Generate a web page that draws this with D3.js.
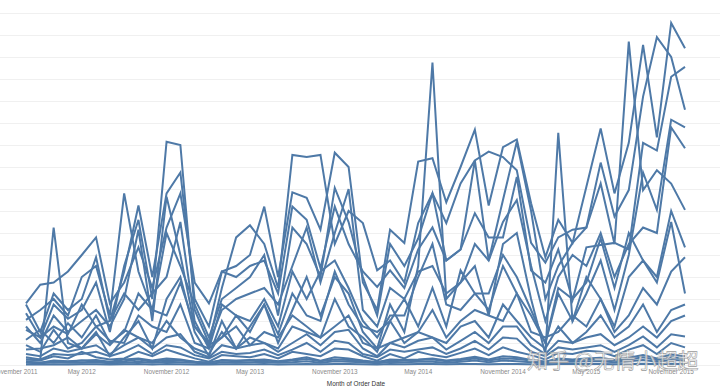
<!DOCTYPE html>
<html>
<head>
<meta charset="utf-8">
<script src="https://cdn.jsdelivr.net/npm/d3@7.9.0/dist/d3.min.js"></script>
<style>
  html, body { margin: 0; padding: 0; background: #fff; }
  svg { display: block; font-family: "Liberation Sans", Arial, sans-serif; }
</style>
</head>
<body>
<svg id="chart" width="720" height="391"></svg>
<script>
// monthly sales (thousands) by sub-category, Jan 2012 - Dec 2015
const phones = [5.5, 3.0, 6.5, 5.0, 6.0, 9.8, 4.0, 8.5, 14.5, 8.0, 15.6, 17.5,
  6.0, 3.5, 8.5, 9.0, 10.0, 14.4, 8.0, 15.7, 15.2, 12.3, 19.3, 18.0,
  7.5, 5.0, 12.3, 11.1, 18.5, 18.8, 14.8, 18.0, 21.4, 14.5, 19.8, 20.5,
  14.7, 9.8, 13.2, 11.1, 16.2, 21.5, 15.6, 20.2, 29.1, 20.7, 31.1, 28.8];
const chairs = [4.7, 2.5, 5.5, 4.2, 5.0, 7.5, 3.0, 9.0, 13.2, 6.0, 20.3, 20.0,
  5.0, 2.0, 7.0, 11.6, 12.7, 11.0, 7.0, 19.1, 18.9, 19.1, 11.0, 14.0,
  12.9, 8.6, 9.5, 7.5, 12.9, 15.6, 12.9, 16.5, 18.6, 19.4, 18.9, 17.7,
  11.1, 9.3, 11.6, 12.3, 12.5, 18.4, 13.5, 15.9, 24.4, 29.8, 28.0, 23.2];
const storage = [5.6, 7.3, 7.5, 8.5, 10.0, 11.6, 5.6, 7.5, 10.7, 7.0, 12.5, 15.6,
  7.5, 5.6, 8.5, 8.0, 9.0, 9.5, 6.5, 14.4, 13.2, 8.8, 14.4, 11.0,
  8.5, 7.1, 8.6, 7.0, 10.5, 12.5, 9.5, 10.5, 13.8, 11.6, 11.6, 17.1,
  8.6, 7.5, 10.5, 5.9, 10.7, 10.9, 11.1, 10.5, 20.2, 19.5, 26.2, 27.1];
const tables = [4.1, 5.0, 6.0, 4.5, 8.0, 9.0, 4.5, 15.6, 8.5, 5.0, 12.0, 9.0,
  5.5, 2.5, 6.0, 7.0, 8.0, 10.0, 4.5, 12.5, 11.0, 8.0, 16.1, 13.0,
  8.0, 4.5, 11.0, 9.0, 11.5, 15.6, 9.5, 10.5, 18.6, 9.5, 15.0, 20.3,
  14.0, 6.0, 9.0, 11.1, 12.5, 16.5, 11.0, 29.4, 15.9, 17.7, 16.5, 14.1];
const binders = [3.5, 2.0, 4.5, 3.0, 4.0, 5.0, 3.5, 6.0, 12.3, 4.0, 15.3, 10.0,
  3.5, 2.0, 5.0, 6.0, 6.5, 7.0, 5.5, 9.0, 12.5, 7.5, 12.0, 16.0,
  5.0, 3.5, 7.0, 6.0, 8.5, 9.0, 6.5, 7.5, 11.0, 9.5, 13.0, 15.0,
  9.0, 4.0, 8.0, 10.0, 9.0, 12.0, 8.0, 11.0, 12.5, 12.0, 21.6, 19.7];
const machines = [3.2, 2.5, 3.5, 2.8, 5.5, 3.5, 4.0, 6.5, 5.0, 6.5, 8.0, 13.0,
  4.0, 1.5, 5.5, 4.5, 4.0, 6.0, 3.5, 8.5, 6.0, 8.5, 9.5, 7.0,
  4.0, 2.5, 4.5, 4.5, 8.0, 11.0, 5.5, 5.0, 6.5, 6.5, 10.0, 8.0,
  5.0, 2.0, 7.0, 6.0, 7.5, 11.5, 7.0, 12.0, 9.5, 8.0, 14.0, 10.7];
const copiers = [0.5, 0.5, 12.5, 2.0, 1.5, 3.0, 0.8, 2.5, 4.0, 1.5, 6.0, 8.0,
  3.0, 0.8, 4.0, 1.5, 3.5, 5.5, 2.0, 5.0, 8.0, 4.5, 8.0, 6.5,
  3.0, 1.5, 5.5, 3.0, 9.0, 27.5, 6.0, 7.5, 9.0, 4.5, 11.0, 12.0,
  6.0, 1.0, 21.1, 4.0, 6.5, 9.5, 5.0, 10.0, 17.5, 14.1, 22.3, 21.6];
const accessories = [2.3, 3.2, 2.0, 3.8, 2.5, 4.5, 2.0, 3.0, 6.5, 5.0, 4.5, 7.5,
  3.5, 1.8, 2.5, 4.5, 3.0, 5.5, 2.8, 6.5, 4.5, 4.0, 8.5, 5.5,
  3.5, 3.0, 4.0, 6.0, 3.5, 7.0, 3.5, 8.6, 6.5, 5.0, 9.0, 6.5,
  4.5, 2.0, 6.5, 4.0, 8.0, 6.0, 3.5, 8.0, 9.5, 7.5, 13.0, 6.5];
const bookcases = [1.8, 1.2, 3.2, 1.5, 2.0, 3.5, 2.2, 2.0, 4.5, 3.5, 3.0, 5.5,
  2.0, 1.5, 2.5, 3.5, 1.8, 3.0, 2.5, 4.5, 3.5, 2.5, 6.0, 3.5,
  2.5, 1.2, 4.0, 2.0, 3.0, 5.0, 2.5, 4.0, 5.0, 4.5, 4.0, 6.5,
  3.0, 2.5, 3.0, 4.5, 3.5, 6.0, 3.0, 4.5, 7.0, 5.5, 8.5, 9.8];
const appliances = [1.4, 1.5, 1.8, 2.5, 1.5, 2.8, 1.8, 3.2, 2.5, 2.0, 4.0, 2.5,
  1.5, 1.0, 3.0, 1.5, 2.5, 2.0, 1.5, 3.5, 3.0, 2.5, 3.5, 4.5,
  2.0, 1.5, 2.0, 2.5, 3.0, 2.5, 2.0, 3.5, 4.0, 2.5, 5.5, 4.0,
  2.5, 1.5, 3.5, 2.0, 3.0, 4.5, 2.5, 3.5, 5.5, 3.0, 5.0, 5.5];
const furnishings = [1.0, 0.8, 1.5, 1.2, 1.5, 1.8, 1.0, 1.8, 2.5, 1.5, 2.5, 2.8,
  1.2, 0.7, 1.8, 1.5, 1.8, 2.0, 1.2, 2.0, 2.8, 1.8, 3.0, 3.2,
  1.5, 0.8, 2.0, 1.6, 2.2, 2.5, 1.4, 2.2, 3.0, 2.0, 3.5, 3.5,
  1.8, 1.0, 2.2, 2.0, 2.5, 2.8, 1.8, 2.5, 3.5, 2.5, 4.0, 4.5];
const paper = [0.7, 0.5, 1.0, 0.9, 1.0, 1.2, 0.8, 1.2, 1.8, 1.0, 1.8, 1.6,
  0.9, 0.6, 1.2, 1.0, 1.1, 1.4, 0.9, 1.4, 2.0, 1.2, 2.2, 2.0,
  1.0, 0.7, 1.4, 1.2, 1.4, 1.6, 1.0, 1.5, 2.2, 1.4, 2.5, 2.4,
  1.2, 0.8, 1.6, 1.4, 1.6, 1.8, 1.2, 1.8, 2.6, 1.6, 2.8, 2.6];
const supplies = [0.5, 0.4, 0.8, 0.6, 1.2, 0.7, 0.5, 0.6, 1.2, 0.8, 1.4, 1.0,
  0.6, 0.3, 0.9, 0.8, 0.7, 1.0, 0.6, 1.2, 1.0, 0.8, 1.5, 1.4,
  0.8, 0.4, 1.0, 0.6, 1.2, 0.9, 0.7, 1.1, 1.5, 0.9, 1.6, 1.2,
  0.9, 0.5, 1.1, 1.0, 1.3, 1.2, 0.8, 1.4, 1.8, 1.0, 2.0, 1.6];
const art = [0.3, 0.2, 0.4, 0.35, 0.4, 0.45, 0.3, 0.5, 0.6, 0.4, 0.6, 0.5,
  0.3, 0.2, 0.45, 0.4, 0.45, 0.5, 0.35, 0.5, 0.7, 0.4, 0.7, 0.6,
  0.4, 0.25, 0.5, 0.45, 0.5, 0.6, 0.4, 0.55, 0.75, 0.5, 0.8, 0.7,
  0.45, 0.3, 0.6, 0.5, 0.6, 0.65, 0.45, 0.65, 0.9, 0.6, 0.95, 0.8];
const envelopes = [0.3, 0.2, 0.35, 0.3, 0.4, 0.3, 0.25, 0.35, 0.5, 0.3, 0.45, 0.4,
  0.3, 0.2, 0.4, 0.35, 0.4, 0.45, 0.3, 0.4, 0.55, 0.35, 0.5, 0.45,
  0.35, 0.25, 0.45, 0.4, 0.45, 0.5, 0.35, 0.45, 0.6, 0.4, 0.6, 0.55,
  0.4, 0.3, 0.5, 0.45, 0.5, 0.55, 0.4, 0.5, 0.7, 0.45, 0.7, 0.6];
const labels = [0.2, 0.15, 0.25, 0.2, 0.2, 0.25, 0.15, 0.2, 0.3, 0.2, 0.3, 0.25,
  0.2, 0.1, 0.25, 0.2, 0.25, 0.3, 0.2, 0.25, 0.35, 0.2, 0.35, 0.3,
  0.25, 0.15, 0.3, 0.25, 0.3, 0.3, 0.2, 0.3, 0.4, 0.25, 0.4, 0.35,
  0.25, 0.15, 0.3, 0.3, 0.35, 0.35, 0.25, 0.35, 0.45, 0.3, 0.45, 0.4];
const fasteners = [0.05, 0.04, 0.06, 0.05, 0.06, 0.07, 0.05, 0.06, 0.08, 0.05, 0.08, 0.07,
  0.05, 0.04, 0.07, 0.06, 0.06, 0.08, 0.05, 0.07, 0.09, 0.06, 0.09, 0.08,
  0.06, 0.05, 0.08, 0.07, 0.08, 0.09, 0.06, 0.08, 0.1, 0.07, 0.1, 0.09,
  0.07, 0.05, 0.09, 0.08, 0.09, 0.1, 0.07, 0.09, 0.12, 0.08, 0.12, 0.1];

const series = [phones, chairs, storage, tables, binders, machines, copiers, accessories,
  bookcases, appliances, furnishings, paper, supplies, art, envelopes, labels, fasteners];

const tickLabels = ['November 2011', 'May 2012', 'November 2012', 'May 2013', 'November 2013',
  'May 2014', 'November 2014', 'May 2015', 'November 2015'];
const tickDates = [new Date(2011, 10, 1), new Date(2012, 4, 1), new Date(2012, 10, 1),
  new Date(2013, 4, 1), new Date(2013, 10, 1), new Date(2014, 4, 1), new Date(2014, 10, 1),
  new Date(2015, 4, 1), new Date(2015, 10, 1)];

const months = d3.timeMonth.range(new Date(2012, 0, 1), new Date(2016, 0, 1));

const svg = d3.select('#chart');

let x = d3.scaleTime()
  .domain([months[0], months[months.length - 1]])
  .range([26, 685]);

let y = d3.scaleLinear()
  .domain([0, 32])
  .range([365, 13]);

// light horizontal gridlines
svg.append('g')
  .selectAll('line')
  .data(y.ticks(16))
  .join('line')
  .attr('x1', 0)
  .attr('x2', 720)
  .attr('y1', d => Math.round(y(d)) + 0.5)
  .attr('y2', d => Math.round(y(d)) + 0.5)
  .attr('stroke', '#f0f0f0')
  .attr('stroke-width', 1);

let line = d3.line()
  .x((d, i) => x(months[i]))
  .y(d => y(d));

svg.append('g')
  .selectAll('path')
  .data(series)
  .join('path')
  .attr('d', line)
  .attr('fill', 'none')
  .attr('stroke', '#4e79a7')
  .attr('stroke-width', 2)
  .attr('stroke-linejoin', 'miter');

// month tick labels (first one is pushed in from the left edge, like Tableau does)
svg.append('g')
  .selectAll('text')
  .data(tickDates)
  .join('text')
  .attr('x', d => Math.max(x(d), 15))
  .attr('y', 374)
  .attr('text-anchor', 'middle')
  .attr('font-size', '6.4px')
  .attr('fill', '#8a8a8a')
  .text((d, i) => tickLabels[i]);

svg.append('text')
  .attr('x', 356)
  .attr('y', 386)
  .attr('text-anchor', 'middle')
  .attr('font-size', '6.4px')
  .attr('fill', '#333')
  .text('Month of Order Date');

// watermark
svg.append('text')
  .attr('x', 527)
  .attr('y', 368)
  .attr('font-family', '"Noto Sans CJK SC", sans-serif')
  .attr('font-size', '21px')
  .attr('fill', '#fff')
  .attr('fill-opacity', 0.75)
  .attr('stroke', '#9a9a9a')
  .attr('stroke-width', 0.6)
  .text('知乎 @无情小超超');
</script>
</body>
</html>
